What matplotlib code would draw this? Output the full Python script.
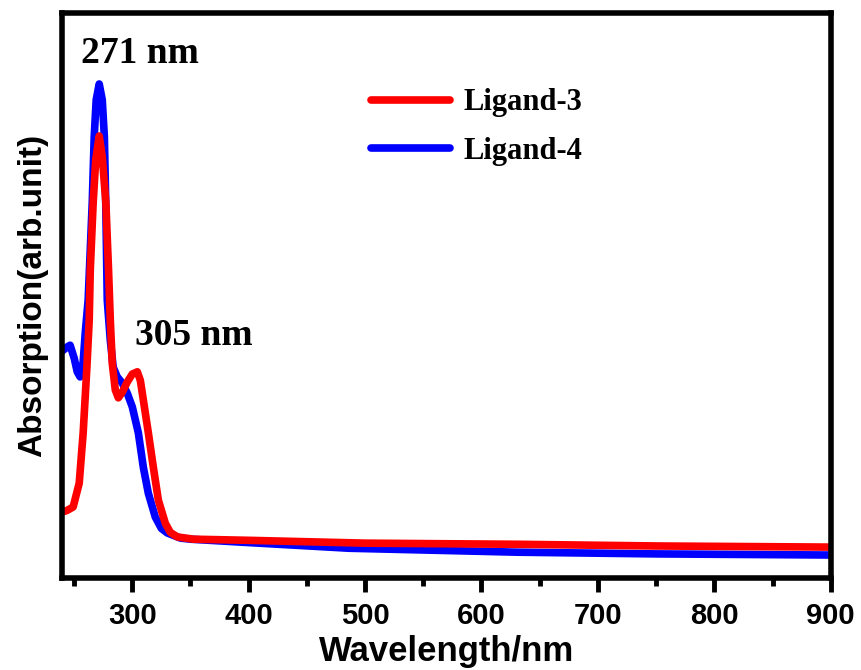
import matplotlib
matplotlib.use("Agg")
import matplotlib.pyplot as plt
from matplotlib.ticker import MultipleLocator

# Ligand-3 (red)
wl_3 = [241.5, 244.1, 249.2, 254.4, 257.8, 261.0, 263.0, 263.9, 266.4, 268.6, 271.6, 274.2,
        277.3, 279.6, 281.1, 282.8, 285.4, 288.0, 291.4, 295.7, 300.0, 304.3, 306.9,
        309.5, 313.8, 318.1, 322.4, 328.4, 332.7, 338.7, 352.5, 400, 500, 631, 750, 900]
abs_3 = [0.118, 0.120, 0.126, 0.168, 0.257, 0.373, 0.457, 0.545, 0.664, 0.740, 0.782, 0.745,
         0.664, 0.545, 0.457, 0.380, 0.333, 0.319, 0.329, 0.347, 0.361, 0.365, 0.350,
         0.315, 0.257, 0.196, 0.138, 0.097, 0.081, 0.073, 0.069, 0.067, 0.062, 0.060,
         0.057, 0.055]

# Ligand-4 (blue)
wl_4 = [240.5, 244.1, 246.6, 250.1, 252.7, 255.2, 257.8, 259.6, 262.1, 263.9, 265.6,
        267.3, 269.0, 271.6, 274.2, 276.0, 277.2, 278.5, 281.1, 283.6, 287.1, 291.4,
        295.7, 300.0, 305.2, 309.5, 313.8, 319.8, 325.0, 330.1, 341.3, 350, 400, 486,
        631, 750, 900]
abs_4 = [0.403, 0.409, 0.412, 0.389, 0.365, 0.356, 0.382, 0.434, 0.492, 0.581, 0.664,
         0.781, 0.846, 0.874, 0.846, 0.781, 0.664, 0.492, 0.421, 0.373, 0.356, 0.345,
         0.327, 0.303, 0.257, 0.196, 0.150, 0.108, 0.088, 0.080, 0.071, 0.069, 0.063,
         0.053, 0.046, 0.043, 0.041]

fig = plt.figure(figsize=(8.62, 6.70), dpi=100)
ax = fig.add_axes([0.0719, 0.137, 0.8918, 0.844])

ax.plot(wl_4, abs_4, color="#0000ff", lw=5.5, label="Ligand-4",
        solid_capstyle="round", solid_joinstyle="round")
ax.plot(wl_3, abs_3, color="#ff0000", lw=5.5, label="Ligand-3",
        solid_capstyle="round", solid_joinstyle="round")

ax.set_xlim(239.6, 900)
ax.set_ylim(0, 1)
ax.xaxis.set_major_locator(MultipleLocator(100))
ax.xaxis.set_minor_locator(MultipleLocator(50))
ax.set_yticks([])
for s in ax.spines.values():
    s.set_linewidth(4)
ax.tick_params(axis="x", which="major", direction="out", length=10, width=3.5, pad=7)
ax.tick_params(axis="x", which="minor", direction="out", length=6, width=3.5)

tick_font = dict(family="Liberation Sans", weight="bold", size=21)
ax.set_xticks([300, 400, 500, 600, 700, 800, 900])
ax.set_xticklabels(["300", "400", "500", "600", "700", "800", "900"], fontdict=tick_font)

ax.set_xlabel("Wavelength/nm", family="Liberation Sans", weight="bold", size=25, labelpad=4)
ax.set_ylabel("Absorption(arb.unit)", family="Liberation Sans", weight="bold", size=24, labelpad=10)

ax.text(307, 0.928, "271 nm", family="Liberation Serif", weight="bold", size=27,
        ha="center", va="center")
ax.text(352.5, 0.430, "305 nm", family="Liberation Serif", weight="bold", size=27,
        ha="center", va="center")

handles, labels = ax.get_legend_handles_labels()
ax.legend(handles[::-1], labels[::-1], loc="upper left", bbox_to_anchor=(0.366, 0.915),
          frameon=False, handlelength=2.6, handletextpad=0.42, labelspacing=0.63,
          prop=dict(family="Liberation Serif", weight="bold", size=22))

fig.savefig("out.png", dpi=100)
